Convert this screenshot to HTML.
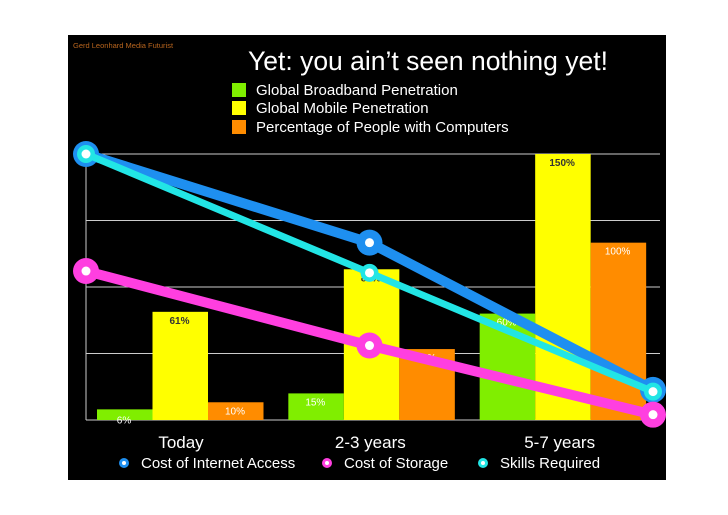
<!DOCTYPE html>
<html><head><meta charset="utf-8"><style>
body{margin:0;background:#fff;font-family:"Liberation Sans",sans-serif}
svg{display:block}
</style></head><body>
<svg width="728" height="515" id="c">
<rect x="68" y="35" width="598" height="445" fill="#000"/>
<text x="73" y="48" font-size="7.5" fill="#b8651e">Gerd Leonhard Media Futurist</text>
<text x="428" y="70" font-size="26.5" fill="#fff" text-anchor="middle">Yet: you ain’t seen nothing yet!</text>
<g>
<rect x="232" y="83" width="14" height="14" fill="#80ee00"/>
<text x="256" y="95" font-size="15" fill="#fff">Global Broadband Penetration</text>
<rect x="232" y="101" width="14" height="14" fill="#ffff00"/>
<text x="256" y="113" font-size="15" fill="#fff">Global Mobile Penetration</text>
<rect x="232" y="120" width="14" height="14" fill="#ff8c00"/>
<text x="256" y="132" font-size="15" fill="#fff">Percentage of People with Computers</text>
</g>
<g id="grid"></g><g id="bars"></g><g id="lines"></g><g id="xl"></g>
<g>
<circle cx="124" cy="463" r="5" fill="#1e8ff0"/><circle cx="124" cy="463" r="2" fill="#fff"/>
<text x="141" y="468" font-size="15" fill="#fff">Cost of Internet Access</text>
<circle cx="327" cy="463" r="5" fill="#ff3fe0"/><circle cx="327" cy="463" r="2" fill="#fff"/>
<text x="344" y="468" font-size="15" fill="#fff">Cost of Storage</text>
<circle cx="483" cy="463" r="5" fill="#22e5e5"/><circle cx="483" cy="463" r="2" fill="#fff"/>
<text x="500" y="468" font-size="15" fill="#fff">Skills Required</text>
</g>
</svg>
<script>
const categories=["Today","2-3 years","5-7 years"];
const broadband=[6,15,60];
const mobile=[61,85,150];
const computers=[10,40,100];
const internetCost=[150,100,17];
const storageCost=[84,42,3];
const skills=[150,83,16];
const gridTicks=[0,37.5,75,112.5,150];
const NS="http://www.w3.org/2000/svg";
const X0=86,X1=660,Y0=420,Y1=154,MAX=150;
const y=v=>Y0-(v/MAX)*(Y0-Y1);
const gw=(X1-X0)/categories.length;
const bx=(i,s)=>X0+11+i*gw+s*55.5;
const lx=i=>X0+i*(653-X0)/(categories.length-1);
function mk(t,a,p){const e=document.createElementNS(NS,t);for(const k in a)e.setAttribute(k,a[k]);document.getElementById(p).appendChild(e);return e;}
gridTicks.forEach(t=>{const l=mk("line",{x1:X0,x2:X1,y1:y(t),y2:y(t),stroke:"#ccc","stroke-width":1},"grid");

});
const ax=mk("line",{x1:X0,x2:X0,y1:Y1,y2:Y0,stroke:"#ccc"},"grid");


const series=[[broadband,"#80ee00","broadband","#fff"],[mobile,"#ffff00","mobile","#333"],[computers,"#ff8c00","computers","#fff"]];
categories.forEach((c,i)=>{
series.forEach((s,j)=>{const v=s[0][i];
const r=mk("rect",{x:bx(i,j),y:y(v),width:55.5,height:Y0-y(v),fill:s[1]},"bars");


const t=mk("text",{x:bx(i,j)+27,y:y(v)+(v<10?14:12),"font-size":10,"text-anchor":"middle",fill:s[3],"font-weight":j==1?"bold":"normal"},"bars");
t.textContent=v+"%";

});
const xl=mk("text",{x:X0+i*gw+95-i*2,y:448,"font-size":17,fill:"#fff","text-anchor":"middle"},"xl");
xl.textContent=c;


});
[[internetCost,"#1e8ff0","internet-cost",10,13],[skills,"#22e5e5","skills",7,9],[storageCost,"#ff3fe0","storage-cost",10,13]].forEach(s=>{
const pts=s[0].map((v,i)=>lx(i)+","+y(v)).join(" ");
const pl=mk("polyline",{points:pts,fill:"none",stroke:s[1],"stroke-width":s[3],"stroke-linejoin":"round"},"lines");


s[0].forEach((v,i)=>{
const c=mk("circle",{cx:lx(i),cy:y(v),r:s[4],fill:s[1]},"lines");


mk("circle",{cx:lx(i),cy:y(v),r:4.5,fill:"#fff"},"lines");});
});
</script>
</body></html>
